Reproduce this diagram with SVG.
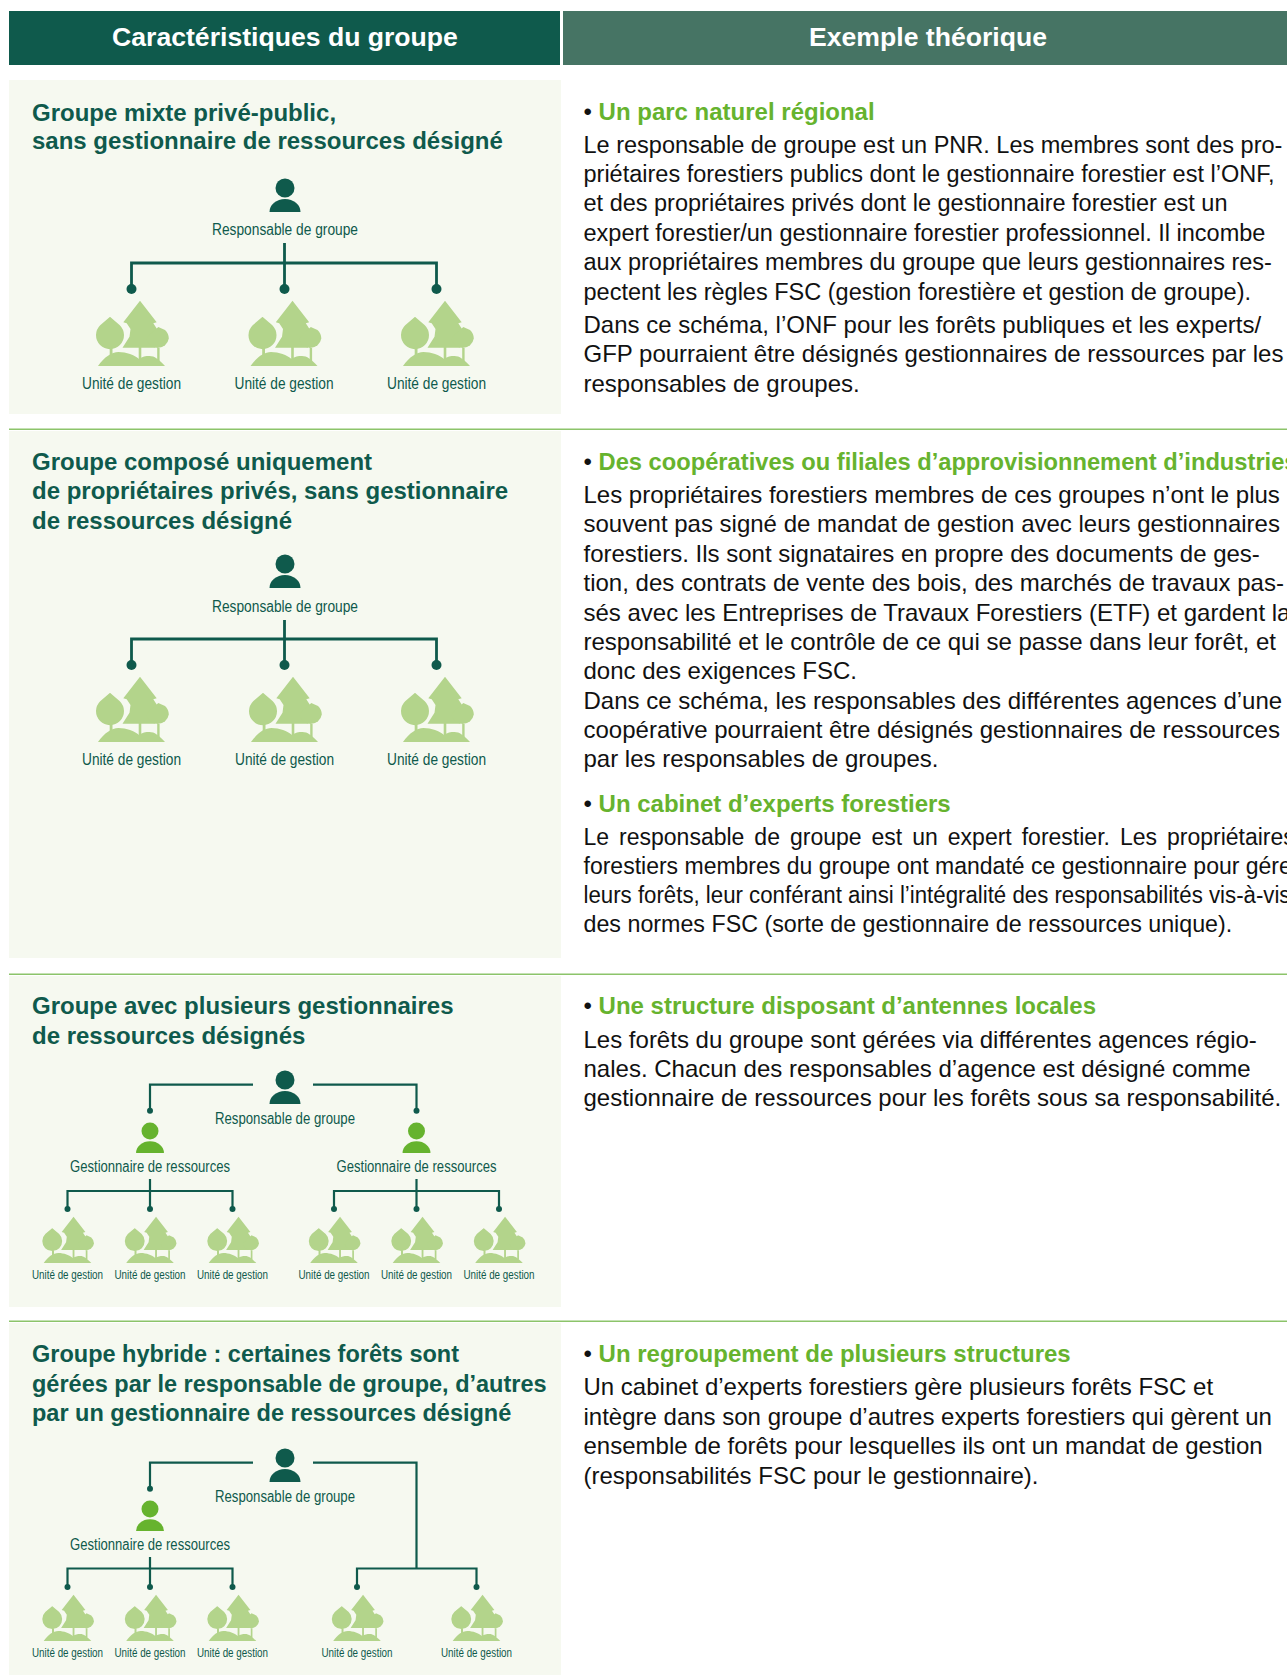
<svg xmlns="http://www.w3.org/2000/svg" xmlns:xlink="http://www.w3.org/1999/xlink" width="1287" height="1675" viewBox="0 0 1287 1675">
<style>
text{font-family:"Liberation Sans",Arial,sans-serif}
.hd{font-size:26.6px;font-weight:700;fill:#fff;text-anchor:middle}
.ti{font-size:24px;font-weight:700;fill:#0f5a4c}
.tj{font-size:23.5px;font-weight:700;fill:#0f5a4c}
.bd{font-size:24px;fill:#111}
.b5{font-size:23.5px;fill:#111}
.b3{font-size:23px;fill:#111}
.gr{font-size:24px;font-weight:700;fill:#66b32e}
.lb{font-size:16px;fill:#0f5a4c;text-anchor:middle}
.ls{font-size:12px;fill:#0f5a4c;text-anchor:middle}
.cn{fill:none;stroke:#0f5a4c;stroke-width:2.8}
.cs{fill:none;stroke:#0f5a4c;stroke-width:2.2}
.dt{fill:#0f5a4c}
.pa{fill:#f6f9f0}
.ru{fill:#8cc46a}
</style>
<defs>
<g id="tree" fill="#b3d48b">
<path d="M8.500,-65.300 L25.200,-43.700 L21.800,-42.700 L25.500,-37 L24,-18.300 L-9,-18.300 L-2,-29.300 L-1,-37 L-4.800,-42.700 L-8.200,-43.700 Z"/>
<path d="M7.200,-19 h2.600 v14 h-2.600 Z"/>
<path d="M26.800,-39 L33.500,-36 A12,12 0 0 1 37.300,-27.500 A11.300,11.300 0 0 1 15,-27.500 L20,-33 Z"/>
<path d="M25.700,-18 h2.400 v13 h-2.400 Z"/>
<path stroke="#f6f9f0" stroke-width="2" d="M-21.500,-50.500 L-11,-41.500 A15,15 0 1 1 -32,-41.500 Z"/>
<path d="M-21.800,-18 h2.800 v10 h-2.800 Z"/>
<path d="M-33.500,0 C-27,-9 -20,-14 -13,-14 C-5,-14 3,-11 7.500,-7 C11,-9.500 14,-10 18,-10 C23,-10 27,-7 33.500,0 Z"/>
</g>
<g id="treeS"><use xlink:href="#tree" href="#tree" transform="scale(.71)"/></g>
<path id="body" d="M-15.500,0 A15.500,13 0 0 1 15.500,0 Z"/>
</defs>

<g id="header">
<rect x="9" y="11" width="551" height="54" fill="#0f5a4c"/>
<rect x="563" y="11" width="724" height="54" fill="#467464"/>
<text class="hd" x="285" y="46">Caractéristiques du groupe</text>
<text class="hd" x="928" y="46">Exemple théorique</text>
</g>

<g id="panels">
<rect class="pa" x="9" y="80" width="552" height="334"/>
<rect class="pa" x="9" y="431" width="552" height="527"/>
<rect class="pa" x="9" y="976" width="552" height="331"/>
<rect class="pa" x="9" y="1323" width="552" height="352"/>
<rect class="ru" x="9" y="428.500" width="1278" height="1.500"/>
<rect class="ru" x="9" y="973.500" width="1278" height="1.500"/>
<rect class="ru" x="9" y="1320.500" width="1278" height="1.500"/>
</g>

<g id="titles">
<text class="ti" x="32" y="120.500">Groupe mixte privé-public,</text>
<text class="ti" x="32" y="149">sans gestionnaire de ressources désigné</text>
<text class="ti" x="32" y="470">Groupe composé uniquement</text>
<text class="ti" x="32" y="499">de propriétaires privés, sans gestionnaire</text>
<text class="ti" x="32" y="529">de ressources désigné</text>
<text class="ti" x="32" y="1014">Groupe avec plusieurs gestionnaires</text>
<text class="ti" x="32" y="1044">de ressources désignés</text>
<text class="tj" x="32" y="1362">Groupe hybride : certaines forêts sont</text>
<text class="tj" x="32" y="1392">gérées par le responsable de groupe, d’autres</text>
<text class="tj" x="32" y="1421">par un gestionnaire de ressources désigné</text>
</g>

<g id="connectors">
<path class="cn" d="M284.500,243V286M131.500,286V263H436.500V286"/>
<path class="cn" d="M284.500,620V662M131.500,662V639H436.500V662"/>
<circle class="dt" cx="131.500" cy="289" r="5"/><circle class="dt" cx="284.500" cy="289" r="5"/><circle class="dt" cx="436.500" cy="289" r="5"/>
<circle class="dt" cx="131.500" cy="665" r="5"/><circle class="dt" cx="284.500" cy="665" r="5"/><circle class="dt" cx="436.500" cy="665" r="5"/>
<path class="cs" d="M253,1084.700H150V1110M313,1084.700H416.500V1110"/>
<path class="cs" d="M150,1179V1208M67.500,1208V1191H232.500V1208M416.500,1179V1208M334,1208V1191H499V1208"/>
<path class="cs" d="M253,1462.700H150V1488M313,1462.700H416.500V1568.500M357,1586V1568.500H476.500V1586"/>
<path class="cs" d="M150,1557V1586M67.500,1586V1568.500H232.500V1586"/>
<g class="dt">
<circle cx="150" cy="1110.700" r="3"/><circle cx="416.500" cy="1110.700" r="3"/>
<circle cx="67.500" cy="1209" r="3"/><circle cx="150" cy="1209" r="3"/><circle cx="232.500" cy="1209" r="3"/><circle cx="334" cy="1209" r="3"/><circle cx="416.500" cy="1209" r="3"/><circle cx="499" cy="1209" r="3"/>
<circle cx="150" cy="1488.700" r="3"/>
<circle cx="67.500" cy="1587" r="3"/><circle cx="150" cy="1587" r="3"/><circle cx="232.500" cy="1587" r="3"/><circle cx="357" cy="1587" r="3"/><circle cx="476.500" cy="1587" r="3"/>
</g>
</g>

<g id="s1-responsable" fill="#0f5a4c"><circle cx="285" cy="188" r="9.500"/><use href="#body" x="285" y="212"/><text class="lb" x="285" y="235" textLength="146" lengthAdjust="spacingAndGlyphs">Responsable de groupe</text></g>
<g id="s1-u1"><use href="#tree" x="131.500" y="366"/><text class="lb" x="131.500" y="389" textLength="99" lengthAdjust="spacingAndGlyphs">Unité de gestion</text></g>
<g id="s1-u2"><use href="#tree" x="284" y="366"/><text class="lb" x="284" y="389" textLength="99" lengthAdjust="spacingAndGlyphs">Unité de gestion</text></g>
<g id="s1-u3"><use href="#tree" x="436.500" y="366"/><text class="lb" x="436.500" y="389" textLength="99" lengthAdjust="spacingAndGlyphs">Unité de gestion</text></g>

<g id="s2-responsable" fill="#0f5a4c"><circle cx="285" cy="564" r="9.500"/><use href="#body" x="285" y="588"/><text class="lb" x="285" y="612" textLength="146" lengthAdjust="spacingAndGlyphs">Responsable de groupe</text></g>
<g id="s2-u1"><use href="#tree" x="131.500" y="742"/><text class="lb" x="131.500" y="765" textLength="99" lengthAdjust="spacingAndGlyphs">Unité de gestion</text></g>
<g id="s2-u2"><use href="#tree" x="284.500" y="742"/><text class="lb" x="284.500" y="765" textLength="99" lengthAdjust="spacingAndGlyphs">Unité de gestion</text></g>
<g id="s2-u3"><use href="#tree" x="436.500" y="742"/><text class="lb" x="436.500" y="765" textLength="99" lengthAdjust="spacingAndGlyphs">Unité de gestion</text></g>

<g id="s3-responsable" fill="#0f5a4c"><circle cx="285" cy="1080" r="9.500"/><use href="#body" x="285" y="1104"/><text class="lb" x="285" y="1124" textLength="140" lengthAdjust="spacingAndGlyphs">Responsable de groupe</text></g>
<g id="s3-gest1"><g fill="#66b32e"><circle cx="150" cy="1131" r="8.500"/><use href="#body" transform="translate(150 1153) scale(.9)"/></g><text class="lb" x="150" y="1172" textLength="160" lengthAdjust="spacingAndGlyphs">Gestionnaire de ressources</text></g>
<g id="s3-gest2"><g fill="#66b32e"><circle cx="416.500" cy="1131" r="8.500"/><use href="#body" transform="translate(416.500 1153) scale(.9)"/></g><text class="lb" x="416.500" y="1172" textLength="160" lengthAdjust="spacingAndGlyphs">Gestionnaire de ressources</text></g>
<g id="s3-u1"><use href="#treeS" x="67.500" y="1263"/><text class="ls" x="67.500" y="1279" textLength="71" lengthAdjust="spacingAndGlyphs">Unité de gestion</text></g>
<g id="s3-u2"><use href="#treeS" x="150" y="1263"/><text class="ls" x="150" y="1279" textLength="71" lengthAdjust="spacingAndGlyphs">Unité de gestion</text></g>
<g id="s3-u3"><use href="#treeS" x="232.500" y="1263"/><text class="ls" x="232.500" y="1279" textLength="71" lengthAdjust="spacingAndGlyphs">Unité de gestion</text></g>
<g id="s3-u4"><use href="#treeS" x="334" y="1263"/><text class="ls" x="334" y="1279" textLength="71" lengthAdjust="spacingAndGlyphs">Unité de gestion</text></g>
<g id="s3-u5"><use href="#treeS" x="416.500" y="1263"/><text class="ls" x="416.500" y="1279" textLength="71" lengthAdjust="spacingAndGlyphs">Unité de gestion</text></g>
<g id="s3-u6"><use href="#treeS" x="499" y="1263"/><text class="ls" x="499" y="1279" textLength="71" lengthAdjust="spacingAndGlyphs">Unité de gestion</text></g>

<g id="s4-responsable" fill="#0f5a4c"><circle cx="285" cy="1458" r="9.500"/><use href="#body" x="285" y="1482"/><text class="lb" x="285" y="1502" textLength="140" lengthAdjust="spacingAndGlyphs">Responsable de groupe</text></g>
<g id="s4-gest1"><g fill="#66b32e"><circle cx="150" cy="1509" r="8.500"/><use href="#body" transform="translate(150 1531) scale(.9)"/></g><text class="lb" x="150" y="1550" textLength="160" lengthAdjust="spacingAndGlyphs">Gestionnaire de ressources</text></g>
<g id="s4-u1"><use href="#treeS" x="67.500" y="1641"/><text class="ls" x="67.500" y="1657" textLength="71" lengthAdjust="spacingAndGlyphs">Unité de gestion</text></g>
<g id="s4-u2"><use href="#treeS" x="150" y="1641"/><text class="ls" x="150" y="1657" textLength="71" lengthAdjust="spacingAndGlyphs">Unité de gestion</text></g>
<g id="s4-u3"><use href="#treeS" x="232.500" y="1641"/><text class="ls" x="232.500" y="1657" textLength="71" lengthAdjust="spacingAndGlyphs">Unité de gestion</text></g>
<g id="s4-u4"><use href="#treeS" x="357" y="1641"/><text class="ls" x="357" y="1657" textLength="71" lengthAdjust="spacingAndGlyphs">Unité de gestion</text></g>
<g id="s4-u5"><use href="#treeS" x="476.500" y="1641"/><text class="ls" x="476.500" y="1657" textLength="71" lengthAdjust="spacingAndGlyphs">Unité de gestion</text></g>

<g id="examples">
<text class="bd" x="583.500" y="120">• <tspan class="gr">Un parc naturel régional</tspan></text>
<text class="b5" x="583.500" y="152.500">Le responsable de groupe est un PNR. Les membres sont des pro-</text>
<text class="b5" x="583.500" y="181.500">priétaires forestiers publics dont le gestionnaire forestier est l’ONF,</text>
<text class="b5" x="583.500" y="211">et des propriétaires privés dont le gestionnaire forestier est un</text>
<text class="b5" x="583.500" y="241">expert forestier/un gestionnaire forestier professionnel. Il incombe</text>
<text class="b5" x="583.500" y="270">aux propriétaires membres du groupe que leurs gestionnaires res-</text>
<text class="b5" x="583.500" y="300">pectent les règles FSC (gestion forestière et gestion de groupe).</text>
<text class="bd" x="583.500" y="333">Dans ce schéma, l’ONF pour les forêts publiques et les experts/</text>
<text class="bd" x="583.500" y="362">GFP pourraient être désignés gestionnaires de ressources par les</text>
<text class="bd" x="583.500" y="392">responsables de groupes.</text>

<text class="bd" x="583.500" y="470">• <tspan class="gr" style="font-size:23.700px">Des coopératives ou filiales d’approvisionnement d’industries</tspan></text>
<text class="bd" x="583.500" y="503">Les propriétaires forestiers membres de ces groupes n’ont le plus</text>
<text class="bd" x="583.500" y="532">souvent pas signé de mandat de gestion avec leurs gestionnaires</text>
<text class="bd" x="583.500" y="562">forestiers. Ils sont signataires en propre des documents de ges-</text>
<text class="bd" x="583.500" y="591">tion, des contrats de vente des bois, des marchés de travaux pas-</text>
<text class="bd" x="583.500" y="620.500">sés avec les Entreprises de Travaux Forestiers (ETF) et gardent la</text>
<text class="bd" x="583.500" y="649.500">responsabilité et le contrôle de ce qui se passe dans leur forêt, et</text>
<text class="bd" x="583.500" y="679">donc des exigences FSC.</text>
<text class="bd" x="583.500" y="709">Dans ce schéma, les responsables des différentes agences d’une</text>
<text class="bd" x="583.500" y="738">coopérative pourraient être désignés gestionnaires de ressources</text>
<text class="bd" x="583.500" y="767">par les responsables de groupes.</text>
<text class="bd" x="583.500" y="812">• <tspan class="gr">Un cabinet d’experts forestiers</tspan></text>
<text class="b3" x="583.500" y="845" word-spacing="3.600">Le responsable de groupe est un expert forestier. Les propriétaires</text>
<text class="b3" x="583.500" y="874">forestiers membres du groupe ont mandaté ce gestionnaire pour gérer</text>
<text class="b5" x="583.500" y="903" textLength="707" lengthAdjust="spacingAndGlyphs">leurs forêts, leur conférant ainsi l’intégralité des responsabilités vis-à-vis</text>
<text class="b3" x="583.500" y="932" style="font-size:23.250px">des normes FSC (sorte de gestionnaire de ressources unique).</text>

<text class="bd" x="583.500" y="1014">• <tspan class="gr">Une structure disposant d’antennes locales</tspan></text>
<text class="bd" x="583.500" y="1047.500">Les forêts du groupe sont gérées via différentes agences régio-</text>
<text class="bd" x="583.500" y="1076.500">nales. Chacun des responsables d’agence est désigné comme</text>
<text class="bd" x="583.500" y="1106">gestionnaire de ressources pour les forêts sous sa responsabilité.</text>

<text class="bd" x="583.500" y="1362">• <tspan class="gr">Un regroupement de plusieurs structures</tspan></text>
<text class="bd" x="583.500" y="1395">Un cabinet d’experts forestiers gère plusieurs forêts FSC et</text>
<text class="bd" x="583.500" y="1425">intègre dans son groupe d’autres experts forestiers qui gèrent un</text>
<text class="bd" x="583.500" y="1454">ensemble de forêts pour lesquelles ils ont un mandat de gestion</text>
<text class="bd" x="583.500" y="1484">(responsabilités FSC pour le gestionnaire).</text>
</g>
</svg>
